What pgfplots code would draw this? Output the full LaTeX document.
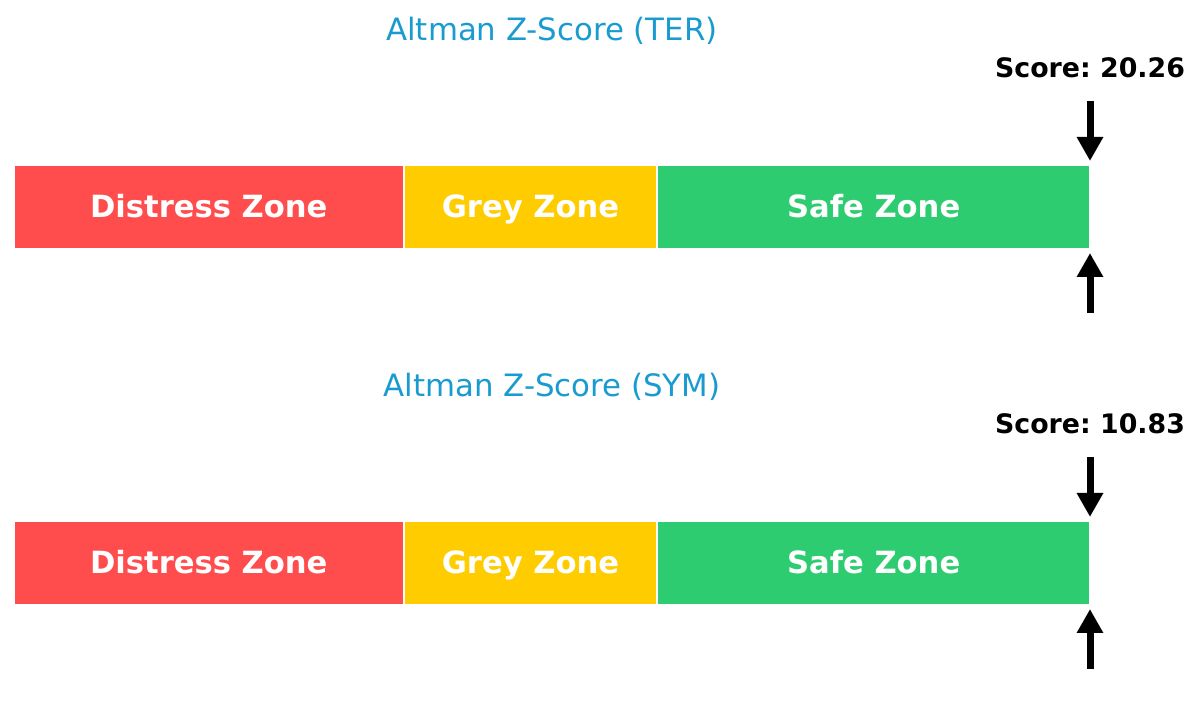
\documentclass[border=0pt]{standalone}
\usepackage{pgfplots}
\pgfplotsset{compat=1.18}
\usepackage{fontspec}
\setmainfont{DejaVu Sans}
\usetikzlibrary{arrows.meta}
\definecolor{distress}{HTML}{FF4D4D}
\definecolor{greyz}{HTML}{FFCC00}
\definecolor{safe}{HTML}{2ECC71}
\definecolor{ttl}{HTML}{1A9BD0}
\frenchspacing
\begin{document}
\begin{tikzpicture}
\useasboundingbox (0,0) rectangle (600pt,356pt);
\begin{axis}[hide axis, scale only axis, width=600pt, height=356pt,
  at={(0,0)}, anchor=south west,
  xmin=-0.06506, xmax=5.5112, ymin=0, ymax=712, clip=false]
% ---------- panel 1 (TER, score 20.26, marker capped at 5) ----------
\addplot[fill=distress, draw=white, line width=1pt] coordinates {(0,462.5) (1.81,462.5) (1.81,547) (0,547)} -- cycle;
\addplot[fill=greyz, draw=white, line width=1pt] coordinates {(1.81,462.5) (2.99,462.5) (2.99,547) (1.81,547)} -- cycle;
\addplot[fill=safe, draw=white, line width=1pt] coordinates {(2.99,462.5) (5,462.5) (5,547) (2.99,547)} -- cycle;
\node[anchor=base, font=\bfseries\fontsize{15.3}{18}\selectfont, text=white] at (axis cs:0.905,494) {Distress Zone};
\node[anchor=base, font=\bfseries\fontsize{15.3}{18}\selectfont, text=white] at (axis cs:2.40,494) {Grey Zone};
\node[anchor=base, font=\bfseries\fontsize{15.3}{18}\selectfont, text=white] at (axis cs:3.995,494) {Safe Zone};
\node[anchor=base, font=\fontsize{15.4}{18}\selectfont, text=ttl] at (axis cs:2.5,671) {Altman Z-Score (TER)};
\node[anchor=base, font=\bfseries\fontsize{13.4}{16}\selectfont] at (axis cs:5,634) {Score: 20.26};
\addplot[black, line width=3.5pt, -{Triangle[width=12.5pt,length=12pt]}] coordinates {(5,611) (5,551)};
\addplot[black, line width=3.5pt, -{Triangle[width=12.5pt,length=12pt]}] coordinates {(5,399) (5,459)};
% ---------- panel 2 (SYM, score 10.83, marker capped at 5) ----------
\addplot[fill=distress, draw=white, line width=1pt] coordinates {(0,106.5) (1.81,106.5) (1.81,191) (0,191)} -- cycle;
\addplot[fill=greyz, draw=white, line width=1pt] coordinates {(1.81,106.5) (2.99,106.5) (2.99,191) (1.81,191)} -- cycle;
\addplot[fill=safe, draw=white, line width=1pt] coordinates {(2.99,106.5) (5,106.5) (5,191) (2.99,191)} -- cycle;
\node[anchor=base, font=\bfseries\fontsize{15.3}{18}\selectfont, text=white] at (axis cs:0.905,138) {Distress Zone};
\node[anchor=base, font=\bfseries\fontsize{15.3}{18}\selectfont, text=white] at (axis cs:2.40,138) {Grey Zone};
\node[anchor=base, font=\bfseries\fontsize{15.3}{18}\selectfont, text=white] at (axis cs:3.995,138) {Safe Zone};
\node[anchor=base, font=\fontsize{15.4}{18}\selectfont, text=ttl] at (axis cs:2.5,315) {Altman Z-Score (SYM)};
\node[anchor=base, font=\bfseries\fontsize{13.4}{16}\selectfont] at (axis cs:5,278) {Score: 10.83};
\addplot[black, line width=3.5pt, -{Triangle[width=12.5pt,length=12pt]}] coordinates {(5,255) (5,195)};
\addplot[black, line width=3.5pt, -{Triangle[width=12.5pt,length=12pt]}] coordinates {(5,43) (5,103)};
\end{axis}
\end{tikzpicture}
\end{document}
